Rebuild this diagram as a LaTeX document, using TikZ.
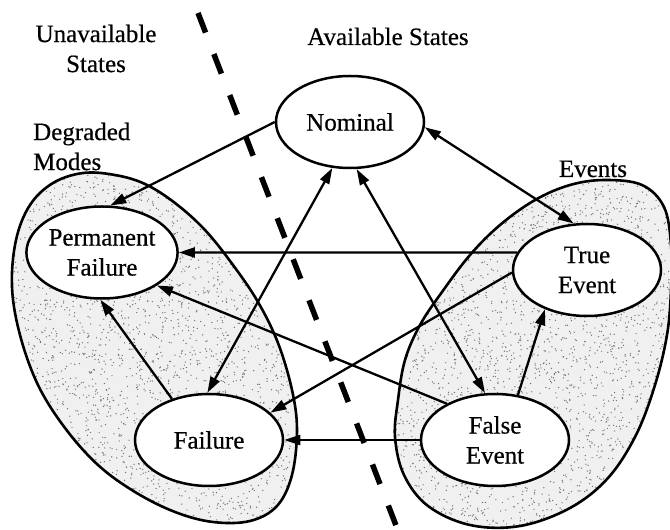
\documentclass[tikz,border=0pt]{standalone}
\usepackage{fontspec}
\setmainfont{Liberation Serif}[FakeBold=0.5]
\usetikzlibrary{arrows.meta,shapes.geometric}
\begin{document}
\begin{tikzpicture}[x=1pt,y=1pt,
  state/.style={ellipse,draw,line width=2.5pt,fill=white,minimum width=148pt,
    minimum height=92pt,inner sep=0pt,align=center,font=\fontsize{25}{30}\selectfont},
  caption/.style={inner sep=0pt,font=\fontsize{25}{30}\selectfont},
  link/.style={line width=2.3pt,-{Triangle[length=16pt,width=10pt]}},
  biglink/.style={line width=2.3pt,{Triangle[length=16pt,width=10pt]}-{Triangle[length=16pt,width=10pt]}},
  region/.style={line width=2.6pt},
  divider/.style={line width=5.5pt,dash pattern=on 21pt off 23pt},
  speck/.style={fill=black!55}
]
\useasboundingbox (0,0) rectangle (670,530);

% outlines of the two groups of states
\path[save path=\leftblob] plot[smooth cycle,tension=0.6] coordinates {
  (83,357) (115,355) (145,346) (175,327) (205,300) (233,265) (258,228)
  (278,187) (292,140) (297,100) (292,55) (277,24) (250,9) (213,8)
  (175,18) (135,38) (98,65) (65,102) (38,145) (20,195) (12,243)
  (16,290) (30,325) (53,347)};
\path[save path=\rightblob] plot[smooth cycle,tension=0.6] coordinates {
  (605,350) (642,345) (664,323) (671,285) (671,240) (667,195) (655,145)
  (636,95) (608,52) (570,22) (520,4) (470,5) (428,24) (404,55) (395,93)
  (398,130) (405,170) (420,205) (442,238) (470,275) (500,305) (535,330) (570,345)};

% stippled fill of the groups
\pgfmathsetseed{7}
\begin{scope}
  \clip[use path=\leftblob];
  \fill[black!6] (0,0) rectangle (310,370);
  \foreach \k in {1,...,3000}{
    \pgfmathsetmacro\px{5+300*rnd}
    \pgfmathsetmacro\py{365*rnd}
    \fill[speck] (\px,\py) circle (0.7pt);
  }
\end{scope}
\begin{scope}
  \clip[use path=\rightblob];
  \fill[black!6] (380,0) rectangle (680,360);
  \foreach \k in {1,...,3000}{
    \pgfmathsetmacro\px{385+290*rnd}
    \pgfmathsetmacro\py{355*rnd}
    \fill[speck] (\px,\py) circle (0.7pt);
  }
\end{scope}
\draw[region, use path=\leftblob];
\draw[region, use path=\rightblob];

% boundary between unavailable and available states
\coordinate (dtop) at (198,517);
\coordinate (dbot) at (397,2);
\draw[divider] (dtop) -- (dbot);

% states
\node[state] (nom) at (350,408) {Nominal};
\node[state] (pf)  at (102,277.5) {Permanent\\Failure};
\node[state] (te)  at (587,260) {True\\Event};
\node[state] (f)   at (209,90) {Failure};
\node[state] (fe)  at (495,90) {False\\Event};

% transitions
\draw[link] (nom.180) -- (pf.80);
\draw[biglink] (nom.-4) -- (te.106);
\draw[link] (te.166) -- (pf.0);
\draw[link] (te.182) -- (f.24);
\draw[biglink] (nom.249) -- (f.92);
\draw[biglink] (nom.278) -- (fe.102);
\draw[link] (fe.180) -- (f.0);
\draw[link] (fe.63) -- (te.223);
\draw[link] (fe.143) -- (pf.329);
\draw[link] (f.132) -- (pf.268);

% captions
\node[caption,align=center] (unavail) at (96,481.5) {Unavailable\\States};
\node[caption,anchor=base] (avail) at (388,485) {Available States};
\node[caption,align=left,anchor=west] (degraded) at (33,383.5) {Degraded\\Modes};
\node[caption,anchor=base] (events) at (593,353) {Events};
\end{tikzpicture}
\end{document}
